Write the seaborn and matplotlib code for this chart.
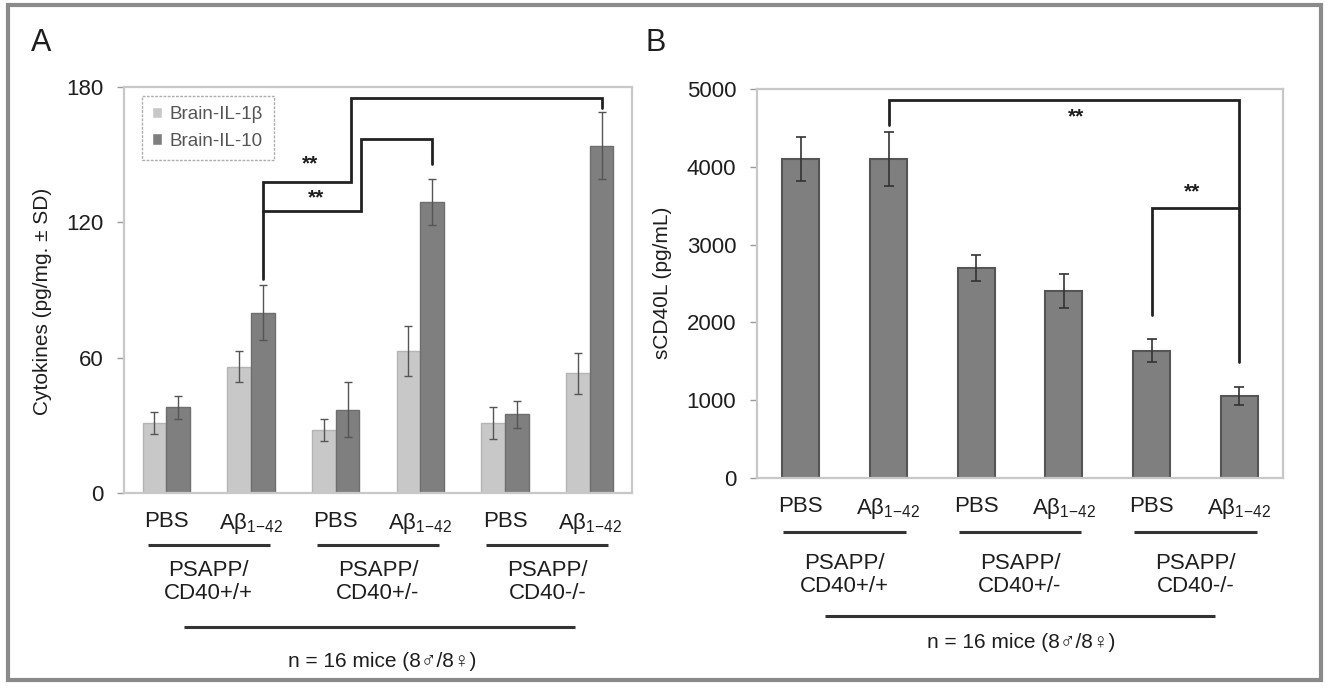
import numpy as np
import pandas as pd
import matplotlib
matplotlib.use("Agg")
import matplotlib.pyplot as plt
import seaborn as sns
from matplotlib.patches import Rectangle

# ---------------- data ----------------
# Panel A
a_conditions = ["PBS +/+", "Ab +/+", "PBS +/-", "Ab +/-", "PBS -/-", "Ab -/-"]
treat_labels = ["PBS", "Aβ$_{1{-}42}$"]
series_names = ["Brain-IL-1β", "Brain-IL-10"]
il1b_mean = [31, 56, 28, 63, 31, 53]
il1b_sd = [5, 7, 5, 11, 7, 9]
il10_mean = [38, 80, 37, 129, 35, 154]
il10_sd = [5, 12, 12, 10, 6, 15]
genotypes = ["PSAPP/\nCD40+/+", "PSAPP/\nCD40+/-", "PSAPP/\nCD40-/-"]
n_label = "n = 16 mice (8♂/8♀)"
a_yticks = [0, 60, 120, 180]

# Panel B
b_conditions = ["PBS +/+", "Ab +/+", "PBS +/-", "Ab +/-", "PBS -/-", "Ab -/-"]
scd40l_mean = [4100, 4100, 2695, 2400, 1635, 1055]
scd40l_sd = [280, 350, 165, 220, 150, 115]
b_yticks = [0, 1000, 2000, 3000, 4000, 5000]

# significance brackets (y levels in data units)
a_outer_y = [95, 138, 175, 170.5]
a_inner_y = [125, 157, 146]
a_star_y = [146, 131]
b_outer_y = [4537, 4859, 1495]
b_inner_y = [2095, 3474]
b_star_y = [4636, 3672]

# ---------------- style ----------------
sns.set_theme(style="white")
plt.rcParams["font.family"] = ["Liberation Sans", "DejaVu Sans"]
plt.rcParams["mathtext.fontset"] = "custom"
plt.rcParams["mathtext.rm"] = "Liberation Sans"
plt.rcParams["mathtext.it"] = "Liberation Sans:italic"
plt.rcParams["mathtext.default"] = "regular"

LIGHT = "#c8c8c8"
DARK = "#7f7f7f"
TXT = "#1e1e1e"
SPINE = "#c8c8c8"
W, H = 1332, 691

fig = plt.figure(figsize=(W / 100, H / 100), dpi=100)
fig.patch.set_facecolor("white")

axA = fig.add_axes([124 / W, 1 - 493 / H, 508 / W, 406 / H])
axB = fig.add_axes([757 / W, 1 - 478 / H, 526 / W, 389 / H])

# ---------------- panel A ----------------
df_a = pd.DataFrame({
    "condition": a_conditions * 2,
    "cytokine": [series_names[0]] * 6 + [series_names[1]] * 6,
    "value": il1b_mean + il10_mean,
})
sns.barplot(data=df_a, x="condition", y="value", hue="cytokine",
            order=a_conditions, hue_order=series_names,
            palette=[LIGHT, DARK], width=0.56, errorbar=None,
            saturation=1, ax=axA)
edge_cols = ["#b4b4b4", "#6e6e6e"]
for cont, sds, ec in zip(axA.containers, [il1b_sd, il10_sd], edge_cols):
    xs, ys = [], []
    for p in cont:
        p.set_edgecolor(ec)
        p.set_linewidth(1.0)
        xs.append(p.get_x() + p.get_width() / 2)
        ys.append(p.get_height())
    axA.errorbar(xs, ys, yerr=sds, fmt="none", ecolor="#555555",
                 elinewidth=1.0, capsize=3, capthick=1.0, zorder=5)

axA.set_ylim(0, 180)
axA.set_xlim(-0.5, 5.5)
axA.set_yticks(a_yticks)
axA.set_xticks(range(6))
axA.set_xticklabels(treat_labels * 3)
axA.set_xlabel("")
axA.set_ylabel("")

handles, labels = axA.get_legend_handles_labels()
leg = axA.legend(handles, labels, loc="upper left", bbox_to_anchor=(0.035, 0.978),
                 borderaxespad=0, frameon=True, fancybox=False,
                 fontsize=13.5, handlelength=0.55, handleheight=0.55,
                 handletextpad=0.4, labelspacing=0.5, borderpad=0.55,
                 labelcolor="#555555")
leg.get_frame().set_edgecolor("#9a9a9a")
leg.get_frame().set_linestyle((0, (2, 1)))
leg.get_frame().set_linewidth(1.0)

# brackets A
cA = axA.containers[1]
xA1 = cA[1].get_x() + cA[1].get_width() / 2
xA3 = cA[3].get_x() + cA[3].get_width() / 2
xA5 = cA[5].get_x() + cA[5].get_width() / 2
step_outer = xA1 + 1.04
step_inner = xA1 + 1.16
axA.plot([xA1, xA1, step_outer, step_outer, xA5, xA5],
         [a_outer_y[0], a_outer_y[1], a_outer_y[1], a_outer_y[2], a_outer_y[2], a_outer_y[3]],
         color="#222222", lw=2, solid_joinstyle="miter", zorder=6)
axA.plot([xA1, step_inner, step_inner, xA3, xA3],
         [a_inner_y[0], a_inner_y[0], a_inner_y[1], a_inner_y[1], a_inner_y[2]],
         color="#222222", lw=2, solid_joinstyle="miter", zorder=6)
axA.text(xA1 + 0.56, a_star_y[0], "**", ha="center", va="center",
         fontsize=15, fontweight="bold", color=TXT)
axA.text(xA1 + 0.63, a_star_y[1], "**", ha="center", va="center",
         fontsize=15, fontweight="bold", color=TXT)

# ---------------- panel B ----------------
df_b = pd.DataFrame({"condition": b_conditions, "value": scd40l_mean})
sns.barplot(data=df_b, x="condition", y="value", order=b_conditions,
            color=DARK, width=0.42, errorbar=None, saturation=1, ax=axB)
xs, ys = [], []
for p in axB.containers[0]:
    p.set_edgecolor("#555555")
    p.set_linewidth(1.5)
    xs.append(p.get_x() + p.get_width() / 2)
    ys.append(p.get_height())
axB.errorbar(xs, ys, yerr=scd40l_sd, fmt="none", ecolor="#333333",
             elinewidth=1.2, capsize=3.5, capthick=1.2, zorder=5)
axB.set_ylim(0, 5000)
axB.set_xlim(-0.5, 5.5)
axB.set_yticks(b_yticks)
axB.set_xticks(range(6))
axB.set_xticklabels(treat_labels * 3)
axB.set_xlabel("")
axB.set_ylabel("")

axB.plot([xs[1], xs[1], xs[5], xs[5]],
         [b_outer_y[0], b_outer_y[1], b_outer_y[1], b_outer_y[2]],
         color="#222222", lw=2, solid_joinstyle="miter", zorder=6)
axB.plot([xs[4], xs[4], xs[5]],
         [b_inner_y[0], b_inner_y[1], b_inner_y[1]],
         color="#222222", lw=2, solid_joinstyle="miter", zorder=6)
axB.text(3.14, b_star_y[0], "**", ha="center", va="center",
         fontsize=15, fontweight="bold", color=TXT)
axB.text(4.46, b_star_y[1], "**", ha="center", va="center",
         fontsize=15, fontweight="bold", color=TXT)

# ---------------- common axis styling ----------------
for ax in (axA, axB):
    for s in ax.spines.values():
        s.set_visible(True)
        s.set_color(SPINE)
        s.set_linewidth(1.6)
    ax.tick_params(axis="y", which="both", left=True, length=5, width=1,
                   color="#9a9a9a", labelsize=16, labelcolor=TXT, pad=10)
    ax.tick_params(axis="x", which="both", bottom=False, length=0,
                   labelsize=16, labelcolor=TXT, pad=13)
    ax.set_facecolor("white")

# group annotations under the axes
def group_annot(ax, y_under, y_geno, y_long, y_n, long_x, n_x, under_half):
    tr = ax.get_xaxis_transform()
    centers = [0.5, 2.5, 4.5]
    for c, g in zip(centers, genotypes):
        ax.plot([c - under_half, c + under_half], [y_under, y_under], transform=tr,
                color="#333333", lw=2.2, clip_on=False, solid_capstyle="butt")
        ax.text(c, y_geno, g, transform=tr, ha="center", va="center",
                fontsize=16, color=TXT, linespacing=1.1)
    ax.plot(long_x, [y_long, y_long], transform=tr, color="#333333", lw=2.2,
            clip_on=False, solid_capstyle="butt")
    ax.text(n_x, y_n, n_label, transform=tr, ha="center", va="center",
            fontsize=15, color=TXT)

group_annot(axA, -0.128, -0.219, -0.329, -0.416, [0.21, 4.83], 2.55, 0.72)
group_annot(axB, -0.138, -0.25, -0.354, -0.424, [0.27, 4.73], 2.51, 0.70)

# y labels
fig.text(42.5 / W, 1 - 301 / H, "Cytokines (pg/mg. ± SD)", rotation=90,
         ha="center", va="center", fontsize=15, color=TXT)
fig.text(663 / W, 1 - 283 / H, "sCD40L (pg/mL)", rotation=90,
         ha="center", va="center", fontsize=15, color=TXT)

# panel letters
fig.text(41 / W, 1 - 43 / H, "A", ha="center", va="center", fontsize=22, color=TXT)
fig.text(656 / W, 1 - 43 / H, "B", ha="center", va="center", fontsize=22, color=TXT)

# outer frame
fig.add_artist(Rectangle((8 / W, 1 - 680 / H), (1321 - 8) / W, (680 - 5) / H,
                         transform=fig.transFigure, fill=False,
                         edgecolor="#8a8a8a", linewidth=3))

fig.savefig("out.png", dpi=100)
